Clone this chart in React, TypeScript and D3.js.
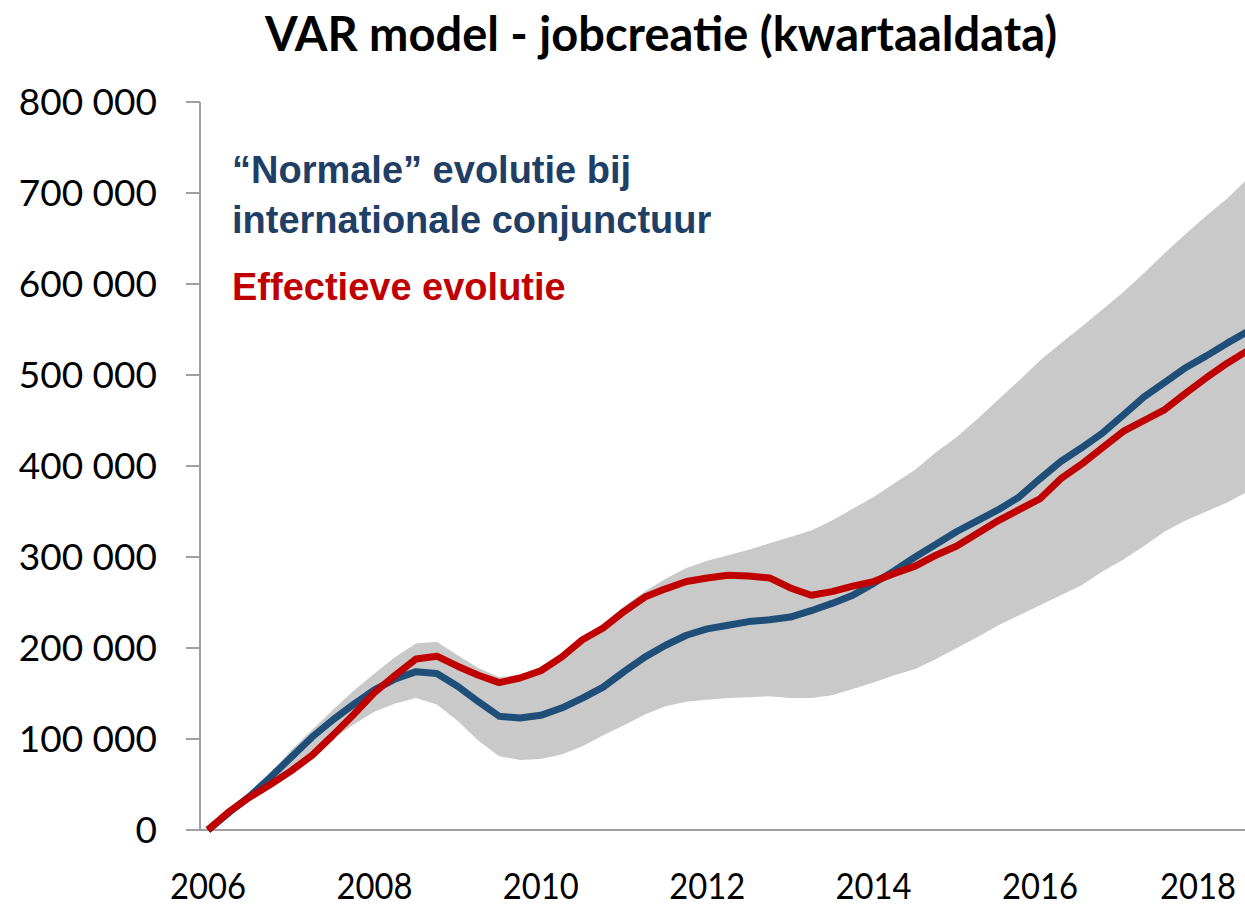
import * as d3 from 'd3'

// quarterly data, index 0 = 2006Q1, values in thousands of jobs
const effective = [
  0, 20, 36, 50, 65, 82, 104, 127, 151, 170, 188, 191, 180, 170, 162, 167, 175, 190, 209, 222,
  240, 256, 265, 273, 277, 280, 279, 277, 266, 258, 262, 268, 273, 282, 290, 302, 312, 326, 340, 352,
  364, 386, 402, 420, 438, 450, 462, 480, 497, 513, 527,
]
const normal = [
  0, 19, 37, 58, 80, 102, 121, 138, 154, 166, 174, 172, 158, 141, 125, 123, 126, 134, 145, 157,
  174, 190, 203, 214, 221, 225, 229, 231, 234, 241, 249, 258, 271, 285, 300, 314, 328, 340, 352, 366,
  386, 405, 420, 436, 456, 476, 492, 508, 521, 535, 548,
]
const bandUpper = [
  0, 22, 40, 62, 88, 110, 132, 153, 172, 190, 205, 207, 192, 178, 168, 170, 179, 194, 212, 227,
  246, 262, 276, 288, 296, 302, 308, 315, 322, 329, 340, 353, 366, 381, 396, 415, 432, 452, 473, 494,
  516, 535, 553, 572, 591, 612, 634, 655, 675, 694, 716,
]
const bandLower = [
  0, 16, 33, 50, 64, 82, 100, 116, 130, 139, 145, 138, 120, 98, 81, 77, 78, 83, 92, 104,
  115, 127, 136, 141, 143, 145, 146, 147, 145, 145, 148, 155, 162, 170, 177, 188, 200, 212, 225, 236,
  247, 258, 269, 284, 297, 312, 328, 340, 350, 360, 372,
]
const yearLabels = [2006, 2008, 2010, 2012, 2014, 2016, 2018]
const yTickValues = [0, 100, 200, 300, 400, 500, 600, 700, 800]

const width = 1245
const height = 906

export default function App() {
  const x = d3.scaleLinear().domain([0, 50]).range([208, 1248])
  const y = d3.scaleLinear().domain([0, 800]).range([830, 102])
  const axisX = 200

  const idx = d3.range(effective.length)
  const band = d3
    .area<number>()
    .x((i) => x(i))
    .y0((i) => y(bandLower[i]))
    .y1((i) => y(bandUpper[i]))
  const line = (vals: number[]) =>
    d3
      .line<number>()
      .x((i) => x(i))
      .y((i) => y(vals[i]))(idx)!

  const fmt = (v: number) => (v === 0 ? '0' : `${v} 000`)

  return (
    <svg
      width={width}
      height={height}
      style={{ position: 'absolute', left: 0, top: 0, background: '#fff' }}
      fontFamily="Lato, 'Open Sans', sans-serif"
    >
      <text x={661} y={51} textAnchor="middle" fontSize={47} fontWeight="bold" fill="#000">
        VAR model - jobcreatie (kwartaaldata)
      </text>

      <path d={band(idx)!} fill="#C9C9C9" stroke="none" />

      <g stroke="#A0A0A0" strokeWidth={2} fill="none">
        <line x1={axisX} x2={axisX} y1={y(800)} y2={y(0)} />
        <line x1={186} x2={width} y1={y(0)} y2={y(0)} />
        {yTickValues.map((v) => (
          <line key={v} x1={186} x2={axisX} y1={y(v)} y2={y(v)} />
        ))}
      </g>

      <g fontSize={37} fill="#000" textAnchor="end">
        {yTickValues.map((v) => (
          <text key={v} x={157} y={y(v)} dy="0.36em">
            {fmt(v)}
          </text>
        ))}
      </g>
      <g fontSize={37} fill="#000" textAnchor="middle">
        {yearLabels.map((yr) => (
          <text
            key={yr}
            x={Math.min(x((yr - 2006) * 4), 1198)}
            y={899}
            textLength={76}
            lengthAdjust="spacingAndGlyphs"
          >
            {yr}
          </text>
        ))}
      </g>

      <path d={line(normal)} fill="none" stroke="#1F4E79" strokeWidth={7} strokeLinejoin="round" />
      <path d={line(effective)} fill="none" stroke="#C00000" strokeWidth={7} strokeLinejoin="round" />

      <g fontFamily="'Liberation Sans', Arial, sans-serif" fontWeight="bold" fontSize={38}>
        <text x={232} y={183} fill="#1F3F66">
          “Normale” evolutie bij
        </text>
        <text x={232} y={233} fill="#1F3F66">
          internationale conjunctuur
        </text>
        <text x={232} y={300} fill="#C00000">
          Effectieve evolutie
        </text>
      </g>
    </svg>
  )
}
